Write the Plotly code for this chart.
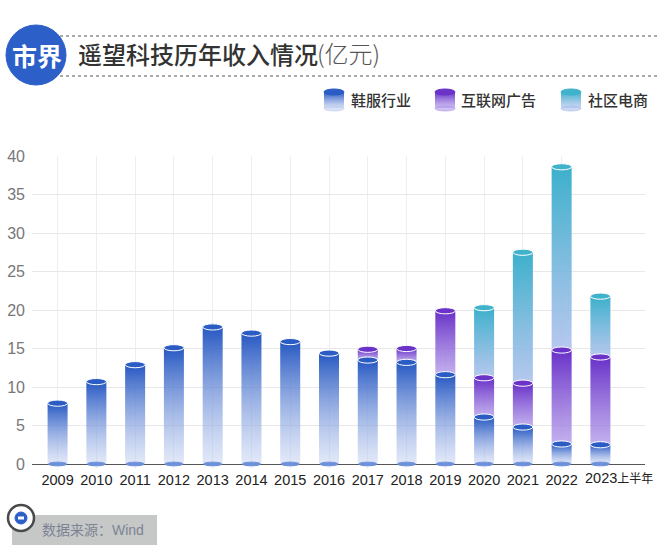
import plotly.graph_objects as go

years = ['2009', '2010', '2011', '2012', '2013', '2014', '2015', '2016',
         '2017', '2018', '2019', '2020', '2021', '2022', '2023']
shoes = [7.9, 10.7, 12.9, 15.1, 17.8, 17.0, 15.9, 14.4, 13.5, 13.2, 11.6, 6.1, 4.8, 2.6, 2.5]
internet = [0, 0, 0, 0, 0, 0, 0, 0, 1.4, 1.8, 8.3, 5.1, 5.7, 12.2, 11.4]
community = [0, 0, 0, 0, 0, 0, 0, 0, 0, 0, 0, 9.1, 17.0, 23.8, 7.9]
y_ticks = [0, 5, 10, 15, 20, 25, 30, 35, 40]

series_names = ['鞋服行业', '互联网广告', '社区电商']

BLUE = ('rgba(38,88,194,1)', 'rgba(190,205,240,0.45)', '#2a5cc4')
PURPLE = ('rgba(104,48,200,1)', 'rgba(175,150,232,0.75)', '#6a32c8')
TEAL = ('rgba(60,176,204,1)', 'rgba(170,190,235,0.85)', '#40b2cc')
BOTTOM = '#6d90da'

W, H = 660, 557
BAR_HALF = 0.258
CAP = 0.40   # half height of a cap, in axis units

fig = go.Figure()
shapes = []


def ellipse(x0, x1, y0, y1, fill, line, xref='x', yref='y'):
    shapes.append(dict(type='circle', xref=xref, yref=yref, x0=x0, x1=x1, y0=y0, y1=y1,
                       fillcolor=fill, line=dict(color=line, width=1), layer='above'))


def column(x, low, high, style, name, xaxis='x', yaxis='y'):
    # a gradient filled box, stop/start are given so each segment fades on its own
    fig.add_trace(go.Scatter(
        x=[x - BAR_HALF, x + BAR_HALF, x + BAR_HALF, x - BAR_HALF, x - BAR_HALF],
        y=[low, low, high, high, low],
        mode='lines', line=dict(width=0), fill='toself', name=name,
        fillgradient=dict(type='vertical', colorscale=[[0, style[1]], [1, style[0]]],
                          start=low, stop=high),
        showlegend=False, hoverinfo='name', xaxis=xaxis, yaxis=yaxis))


for i, year in enumerate(years):
    tops = [shoes[i], shoes[i] + internet[i], shoes[i] + internet[i] + community[i]]
    lows = [0, shoes[i], shoes[i] + internet[i]]
    ellipse(i - BAR_HALF * 0.9, i + BAR_HALF * 0.9, -CAP * 0.6, CAP * 0.6, BOTTOM, BOTTOM)
    for k, style in reversed(list(enumerate([BLUE, PURPLE, TEAL]))):
        if tops[k] > lows[k]:
            column(i, lows[k], tops[k], style, series_names[k])
            ellipse(i - BAR_HALF, i + BAR_HALF, tops[k] - CAP, tops[k] + CAP, style[2], 'white')

# overlay subplot in page pixels, for the header, the legend and the source box
fig.add_trace(go.Scatter(x=[0], y=[0], mode='none', xaxis='x2', yaxis='y2',
                         showlegend=False, hoverinfo='skip'))

for y in [36, 76]:
    shapes.append(dict(type='line', xref='x2', yref='y2', x0=48, x1=660, y0=y, y1=y,
                       line=dict(color='#555555', width=1, dash='3px,3px')))
ellipse(6, 66, 25, 85, '#2c5fc8', '#2c5fc8', 'x2', 'y2')

annotations = [
    dict(x=37, y=55, text='<b>市界</b>', font=dict(size=25, color='white', family='Noto Sans CJK SC')),
    dict(x=76, y=53, text='遥望科技历年收入情况', xanchor='left',
         font=dict(size=24, color='#333333', family='Noto Sans CJK SC', weight=500)),
    dict(x=315, y=52, text='(亿元)', xanchor='left',
         font=dict(size=24, color='#555555', family='Noto Sans CJK SC', weight=300)),
    dict(x=583, y=478, text='2023<span style="font-size:12px">上半年</span>', xanchor='left',
         font=dict(size=14.5, color='#222222', family='Liberation Sans, Noto Sans CJK SC')),
    dict(x=40, y=530, text='数据来源：Wind', xanchor='left',
         font=dict(size=14, color='#7c8494', family='Liberation Sans, Noto Sans CJK SC')),
]

icon_x = [334, 445, 571]
label_x = [349, 459, 586]
for k, style in enumerate([BLUE, PURPLE, TEAL]):
    soft = style[1].rsplit(',', 1)[0] + ',0.6)'
    fig.add_trace(go.Scatter(
        x=[icon_x[k] - 10, icon_x[k] + 10, icon_x[k] + 10, icon_x[k] - 10, icon_x[k] - 10],
        y=[108, 108, 92, 92, 108],
        mode='lines', line=dict(width=0), fill='toself',
        fillgradient=dict(type='vertical', colorscale=[[0, style[0]], [1, soft]],
                          start=92, stop=108),
        showlegend=False, hoverinfo='skip', xaxis='x2', yaxis='y2'))
    ellipse(icon_x[k] - 10, icon_x[k] + 10, 89, 95, style[2], style[2], 'x2', 'y2')
    ellipse(icon_x[k] - 10, icon_x[k] + 10, 106, 111, soft, soft, 'x2', 'y2')
    annotations.append(dict(x=label_x[k], y=99, text=series_names[k], xanchor='left',
                            font=dict(size=15, color='#333333', family='Noto Sans CJK SC', weight=500)))

shapes.append(dict(type='rect', xref='x2', yref='y2', x0=12, x1=157, y0=515, y1=545,
                   fillcolor='#c6c8c8', line=dict(width=0)))
ellipse(8, 34, 505, 531, 'white', '#4a4a4a', 'x2', 'y2')
shapes[-1]['line']['width'] = 2.5
ellipse(15, 27, 512, 524, '#2c5fc8', '#2c5fc8', 'x2', 'y2')
shapes.append(dict(type='line', xref='x2', yref='y2', x0=18, x1=24, y0=518, y1=518, layer='above',
                   line=dict(color='white', width=3)))

for a in annotations:
    a.update(xref='x2', yref='y2', showarrow=False)

fig.update_layout(
    width=W, height=H,
    margin=dict(l=0, r=0, t=0, b=0, pad=0),
    paper_bgcolor='white', plot_bgcolor='rgba(0,0,0,0)',
    showlegend=False,
    shapes=shapes,
    annotations=annotations,
    xaxis=dict(domain=[32 / W, 645 / W], range=[-0.66, 15.15], tickmode='array',
               tickvals=list(range(14)), ticktext=years[:14], showgrid=True, automargin=False,
               gridcolor='#eeeef2', gridwidth=1, zeroline=False, showline=False, ticks='',
               ticklabelstandoff=0,
               tickfont=dict(size=14.5, color='#222222', family='Liberation Sans')),
    yaxis=dict(domain=[(H - 469) / H, (H - 156) / H], range=[-0.65, 40], tickmode='array',
               tickvals=y_ticks, showgrid=True, gridcolor='#e8e8e8', gridwidth=1, automargin=False,
               zeroline=True, zerolinecolor='#555555', zerolinewidth=1, showline=False,
               ticks='', ticklabelstandoff=6,
               tickfont=dict(size=16, color='#777777', family='Liberation Sans')),
    xaxis2=dict(domain=[0, 1], range=[0, W], visible=False, anchor='y2', automargin=False),
    yaxis2=dict(domain=[0, 1], range=[H, 0], visible=False, anchor='x2', automargin=False),
)

fig.write_html("out.html", config=dict(displayModeBar=False),
               post_script="document.body.style.margin = '0';")
